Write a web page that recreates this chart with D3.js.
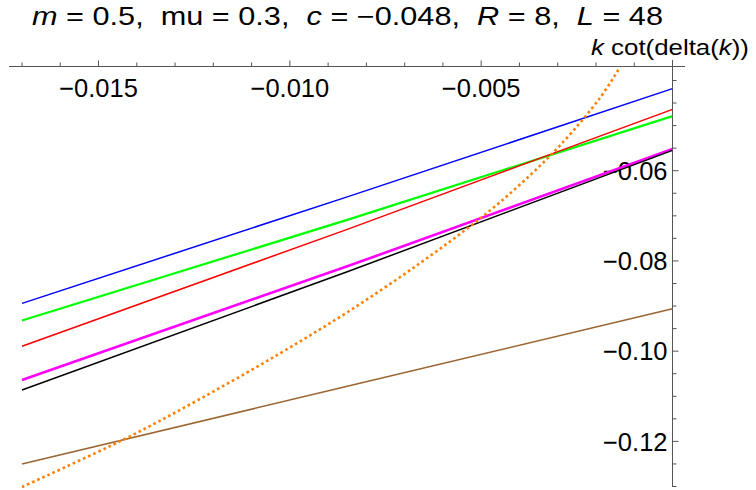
<!DOCTYPE html>
<html>
<head>
<meta charset="utf-8">
<script src="https://cdn.jsdelivr.net/npm/d3@7"></script>
<style>
    body { margin: 0; background: #fff; }
    svg { display: block; font-family: "Liberation Sans", Arial, sans-serif; }
</style>
</head>
<body>
<div id="chart"></div>
<script>
// k values where the straight curves were read
const kSamples = [-0.017, -0.0085, 0];

const blueValues = [-0.0894, -0.0658, -0.0418];
const greenValues = [-0.0932, -0.0709, -0.0479];
const redValues = [-0.0989, -0.0730, -0.0464];
const magentaValues = [-0.1064, -0.0812, -0.0552];
const blackValues = [-0.1086, -0.0824, -0.0555];
const brownValues = [-0.1250, -0.1078, -0.0906];

// dotted orange curve
const orangeK = [-0.01700, -0.01430, -0.01235, -0.01026, -0.00843, -0.00660,
    -0.00503, -0.00399, -0.00294, -0.00189, -0.00137];
const orangeValues = [-0.1301, -0.1194, -0.1106, -0.1005, -0.0910, -0.0805,
    -0.0706, -0.0631, -0.0544, -0.0438, -0.0370];

const xMajorTicks = [-0.015, -0.010, -0.005];
const xTickLabels = ['\u22120.015', '\u22120.010', '\u22120.005'];
const yMajorTicks = [-0.06, -0.08, -0.10, -0.12];
const yTickLabels = ['\u22120.06', '\u22120.08', '\u22120.10', '\u22120.12'];

const width = 756;
const height = 490;

const svg = d3.select('#chart')
    .append('svg')
    .attr('width', width)
    .attr('height', height);

const x = d3.scaleLinear().domain([-0.017, 0]).range([22, 672.5]);
const y = d3.scaleLinear().domain([-0.13, -0.0369]).range([486.5, 66.5]);

svg.append('defs').append('clipPath')
    .attr('id', 'plot-clip')
    .append('rect')
    .attr('x', x(-0.017) - 2)
    .attr('y', y(-0.0369))
    .attr('width', x(0) - x(-0.017) + 2)
    .attr('height', y(-0.13) - y(-0.0369) + 4);

const axisColor = '#555';

// x axis along the top edge
const xAxisY = y(-0.0369);
svg.append('line')
    .attr('x1', 9).attr('x2', 685)
    .attr('y1', xAxisY).attr('y2', xAxisY)
    .attr('stroke', axisColor).attr('stroke-width', 1);

const xMinor = d3.range(-17, 1).map(i => i / 1000);
svg.append('g').selectAll('line')
    .data(xMinor)
    .enter()
    .append('line')
    .attr('x1', d => x(d)).attr('x2', d => x(d))
    .attr('y1', xAxisY)
    .attr('y2', d => xMajorTicks.some(t => Math.abs(t - d) < 1e-9) ? xAxisY - 6 : xAxisY - 4)
    .attr('stroke', axisColor);

svg.append('g').selectAll('text')
    .data(xMajorTicks)
    .enter()
    .append('text')
    .attr('x', d => x(d))
    .attr('y', 96.5)
    .attr('text-anchor', 'middle')
    .attr('font-size', 25.5)
    .text((d, i) => xTickLabels[i]);

// y axis at k = 0
const yAxisX = x(0);
svg.append('line')
    .attr('x1', yAxisX).attr('x2', yAxisX)
    .attr('y1', 60).attr('y2', 487)
    .attr('stroke', axisColor).attr('stroke-width', 1);

const yMinor = d3.range(-26, -7).map(i => i / 200);
svg.append('g').selectAll('line')
    .data(yMinor)
    .enter()
    .append('line')
    .attr('x1', yAxisX)
    .attr('x2', d => yMajorTicks.some(t => Math.abs(t - d) < 1e-9) ? yAxisX + 6 : yAxisX + 4)
    .attr('y1', d => y(d)).attr('y2', d => y(d))
    .attr('stroke', axisColor);

svg.append('g').selectAll('text')
    .data(yMajorTicks)
    .enter()
    .append('text')
    .attr('x', yAxisX - 5)
    .attr('y', d => y(d))
    .attr('dy', '0.36em')
    .attr('text-anchor', 'end')
    .attr('font-size', 25.5)
    .text((d, i) => yTickLabels[i]);

// curves
const line = d3.line()
    .x(d => x(d[0]))
    .y(d => y(d[1]));

const series = [
    {values: blueValues, color: '#0000ff', w: 1.5},
    {values: greenValues, color: '#00ff00', w: 2.2},
    {values: redValues, color: '#ff0000', w: 1.5},
    {values: magentaValues, color: '#ff00ff', w: 2.6},
    {values: blackValues, color: '#000000', w: 1.5},
    {values: brownValues, color: '#996633', w: 1.5}
];

const plot = svg.append('g').attr('clip-path', 'url(#plot-clip)');

plot.selectAll('path.curve')
    .data(series)
    .enter()
    .append('path')
    .attr('class', 'curve')
    .attr('d', s => line(kSamples.map((k, i) => [k, s.values[i]])))
    .attr('fill', 'none')
    .attr('stroke', s => s.color)
    .attr('stroke-width', s => s.w);

plot.append('path')
    .attr('d', line.curve(d3.curveCatmullRom)(orangeK.map((k, i) => [k, orangeValues[i]])))
    .attr('fill', 'none')
    .attr('stroke', '#ff8000')
    .attr('stroke-width', 2.6)
    .attr('stroke-dasharray', '2.6,3');

// y axis label
const yLabel = svg.append('text')
    .attr('x', 591)
    .attr('y', 55)
    .attr('font-size', 22)
    .attr('textLength', 158)
    .attr('lengthAdjust', 'spacingAndGlyphs');
yLabel.append('tspan').attr('font-style', 'italic').text('k');
yLabel.append('tspan').text(' cot(delta(');
yLabel.append('tspan').attr('font-style', 'italic').text('k');
yLabel.append('tspan').text('))');

// title
const title = svg.append('text')
    .attr('x', 32)
    .attr('y', 25)
    .attr('font-size', 25)
    .attr('textLength', 631)
    .attr('lengthAdjust', 'spacingAndGlyphs')
    .style('white-space', 'pre');
const titleParts = [
    ['m', true], [' = 0.5,  mu = 0.3,  ', false], ['c', true], [' = \u22120.048,  ', false],
    ['R', true], [' = 8,  ', false], ['L', true], [' = 48', false]
];
titleParts.forEach(p => {
    title.append('tspan')
        .attr('font-style', p[1] ? 'italic' : 'normal')
        .text(p[0]);
});
</script>
</body>
</html>
